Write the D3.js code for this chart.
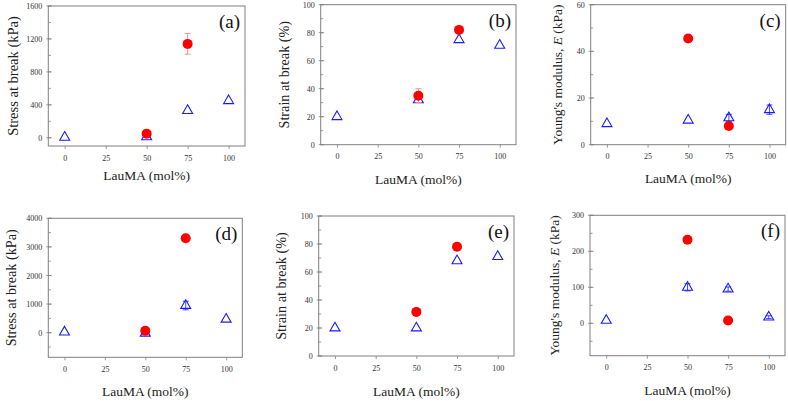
<!DOCTYPE html>
<html><head><meta charset="utf-8">
<script src="https://cdn.jsdelivr.net/npm/d3@7"></script>
<style>
html,body{margin:0;padding:0;background:#fff;}
svg{display:block;}
text{font-family:"Liberation Serif","Times New Roman",serif;}
</style></head>
<body>
<svg id="chart" width="788" height="401"></svg>
<script>
// ---- data ----
const xValues = [0, 50, 75, 100];          // blue triangles x
const xTicks = [0, 25, 50, 75, 100];
const panelLabels = ["(a)", "(b)", "(c)", "(d)", "(e)", "(f)"];
const yTitles = ["Stress at break (kPa)", "Strain at break (%)", "Young's modulus, E (kPa)",
                 "Stress at break (kPa)", "Strain at break (%)", "Young's modulus, E (kPa)"];
const yDomains = [[-100, 1600], [0, 100], [0, 60], [-860, 4000], [0, 100], [-90, 300]];
const yMajorTicks = [[0, 400, 800, 1200, 1600], [0, 20, 40, 60, 80, 100], [0, 20, 40, 60],
                     [0, 1000, 2000, 3000, 4000], [0, 20, 40, 60, 80, 100], [0, 100, 200, 300]];
const yMinorStep = [200, 10, 10, 500, 10, 50];

// blue triangles (values at 0, 50, 75, 100) and their error
const blueValues = [[5, 10, 330, 450], [20, 32, 75, 71], [9, 10.5, 11.5, 15],
                    [20, -20, 950, 470], [20, 20, 68, 71], [8, 100, 95, 17]];
const blueErrors = [[0, 0, 0, 0], [0, 0, 0, 0], [0, 0, 1.5, 2],
                    [0, 0, 150, 0], [0, 0, 0, 0], [0, 10, 6, 4]];
// red circles (values at 50, 75) and their error
const redX = [50, 75];
const redValues = [[50, 1140], [35, 82], [45.5, 8], [70, 3300], [31.5, 78], [232, 8]];
const redErrors = [[0, 125], [5, 0], [0, 0], [0, 0], [0, 0], [0, 0]];

// ---- layout (pixel boxes of plot areas) ----
const boxes = [
  {l: 48.3, r: 245, t: 6, b: 146, ty: 34, yx: 35.3, fs: 14.5},
  {l: 320.7, r: 516, t: 4.7, b: 144.7, ty: 39, yx: 36.4, fs: 14.2},
  {l: 590.7, r: 785.7, t: 4.7, b: 144.7, ty: 38, yx: 33.5, fs: 13.5},
  {l: 48.3, r: 242.3, t: 218.3, b: 357.3, ty: 39, yx: 36.6, fs: 14.2},
  {l: 318.7, r: 514, t: 216, b: 356, ty: 39.5, yx: 37, fs: 14.2},
  {l: 590, r: 785, t: 215.3, b: 355.7, ty: 39, yx: 35.5, fs: 13.5}
];

const svg = d3.select("#chart");
const frameColor = "#808080";
const blue = "#1a1aff", red = "#ff0000", pink = "#ff9090";
const serif = "'Liberation Serif','Times New Roman',serif";

boxes.forEach((bx, i) => {
  const x = d3.scaleLinear().domain([-10, 110]).range([bx.l, bx.r]);
  const y = d3.scaleLinear().domain(yDomains[i]).range([bx.b, bx.t]);
  const g = svg.append("g");

  // frame
  g.append("rect").attr("x", bx.l).attr("y", bx.t).attr("width", bx.r - bx.l).attr("height", bx.b - bx.t)
    .attr("fill", "none").attr("stroke", frameColor).attr("stroke-width", 1);

  // y minor ticks
  const minor = d3.range(Math.ceil(yDomains[i][0] / yMinorStep[i]) * yMinorStep[i], yDomains[i][1] + 1e-9, yMinorStep[i]);
  g.selectAll(".ymin").data(minor).join("line")
    .attr("x1", bx.l).attr("x2", bx.l + 2.5).attr("y1", d => y(d)).attr("y2", d => y(d))
    .attr("stroke", frameColor).attr("stroke-width", 0.8);

  // y axis labels
  const ya = d3.axisLeft(y).tickValues(yMajorTicks[i]).tickSize(0).tickPadding(6).tickFormat(d3.format("d"));
  const yg = g.append("g").attr("transform", `translate(${bx.l},0)`).call(ya);
  yg.attr("font-family", null);
  yg.select(".domain").remove();
  yg.selectAll("text").attr("font-size", 8).attr("fill", "#333").style("font-family", serif);
  g.selectAll(".ymaj").data(yMajorTicks[i]).join("line")
    .attr("x1", bx.l - 2).attr("x2", bx.l + 3.5).attr("y1", d => y(d)).attr("y2", d => y(d))
    .attr("stroke", frameColor).attr("stroke-width", 0.8);

  // x axis
  const xa = d3.axisBottom(x).tickValues(xTicks).tickSize(3).tickPadding(6).tickFormat(d3.format("d"));
  const xg = g.append("g").attr("transform", `translate(0,${bx.b})`).call(xa);
  xg.attr("font-family", null);
  xg.select(".domain").remove();
  xg.selectAll("line").attr("stroke", frameColor).attr("stroke-width", 0.8);
  xg.selectAll("text").attr("font-size", 8).attr("fill", "#333").style("font-family", serif);

  // axis titles
  g.append("text").attr("x", (bx.l + bx.r) / 2).attr("y", bx.b + bx.ty)
    .attr("text-anchor", "middle").attr("font-size", 13.5).attr("fill", "#222")
    .style("font-family", serif).text("LauMA (mol%)");
  const yt = g.append("text")
    .attr("transform", `translate(${bx.l - bx.yx + bx.fs / 3},${(bx.t + bx.b) / 2}) rotate(-90)`)
    .attr("text-anchor", "middle").attr("font-size", bx.fs).attr("fill", "#222")
    .style("font-family", serif);
  const title = yTitles[i];
  if (title.includes(", E ")) {
    const parts = title.split(", E ");
    yt.append("tspan").text(parts[0] + ", ");
    yt.append("tspan").attr("font-style", "italic").text("E");
    yt.append("tspan").text(" " + parts[1]);
  } else {
    yt.text(title);
  }

  // panel label
  g.append("text").attr("x", bx.r - 5).attr("y", bx.t + 22).attr("text-anchor", "end")
    .attr("font-size", 19).attr("fill", "#111").style("font-family", serif).text(panelLabels[i]);

  // blue series
  const bdata = xValues.map((xv, j) => ({x: xv, v: blueValues[i][j], e: blueErrors[i][j]}));
  bdata.filter(d => d.e > 0).forEach(d => {
    g.append("line").attr("x1", x(d.x)).attr("x2", x(d.x)).attr("y1", y(d.v - d.e)).attr("y2", y(d.v + d.e))
      .attr("stroke", blue).attr("stroke-width", 0.8);
    [d.v - d.e, d.v + d.e].forEach(v => g.append("line").attr("x1", x(d.x) - 3).attr("x2", x(d.x) + 3)
      .attr("y1", y(v)).attr("y2", y(v)).attr("stroke", blue).attr("stroke-width", 0.8));
  });
  const tri = d3.symbol().type(d3.symbolTriangle).size(43);
  g.selectAll(".tri").data(bdata).join("path")
    .attr("d", tri).attr("transform", d => `translate(${x(d.x)},${y(d.v)})`)
    .attr("fill", "none").attr("stroke", blue).attr("stroke-width", 1.1);

  // red series
  const rdata = redX.map((xv, j) => ({x: xv, v: redValues[i][j], e: redErrors[i][j]}));
  rdata.filter(d => d.e > 0).forEach(d => {
    g.append("line").attr("x1", x(d.x)).attr("x2", x(d.x)).attr("y1", y(d.v - d.e)).attr("y2", y(d.v + d.e))
      .attr("stroke", pink).attr("stroke-width", 1);
    [d.v - d.e, d.v + d.e].forEach(v => g.append("line").attr("x1", x(d.x) - 3).attr("x2", x(d.x) + 3)
      .attr("y1", y(v)).attr("y2", y(v)).attr("stroke", pink).attr("stroke-width", 1));
  });
  g.selectAll(".dot").data(rdata).join("circle")
    .attr("cx", d => x(d.x)).attr("cy", d => y(d.v)).attr("r", 5).attr("fill", red);
});
</script>
</body></html>
